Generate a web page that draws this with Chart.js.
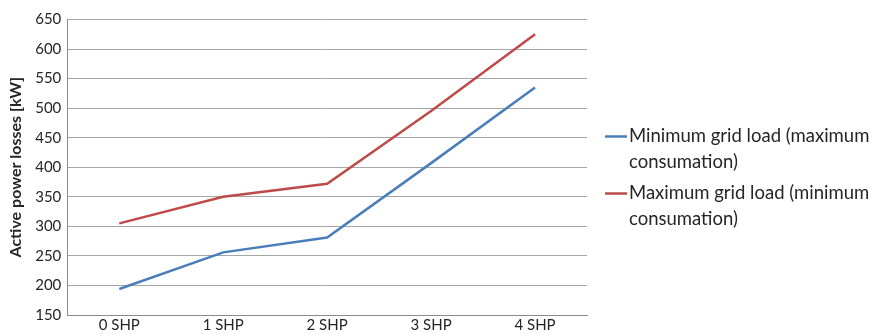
<!DOCTYPE html>
<html>
<head>
<meta charset="utf-8">
<script src="https://cdn.jsdelivr.net/npm/chart.js@4.4.1/dist/chart.umd.min.js"></script>
<style>
  html, body { margin: 0; padding: 0; background: #ffffff; }
  #wrap { width: 882px; height: 335px; position: relative; }
</style>
</head>
<body>
<div id="wrap"><canvas id="c" width="882" height="335"></canvas></div>
<script>
// Scenarios: number of small hydro power plants connected
const categories = ['0 SHP', '1 SHP', '2 SHP', '3 SHP', '4 SHP'];
// Active power losses [kW]
const minGridLoad = [194, 256, 281, 407, 535];
const maxGridLoad = [305, 350, 372, 495, 625];
const seriesNames = [
  ['Minimum grid load (maximum', 'consumation)'],
  ['Maximum grid load (minimum', 'consumation)']
];
const yTicks = [150, 200, 250, 300, 350, 400, 450, 500, 550, 600, 650];

const FONT = 'Lato, "Open Sans", sans-serif';

// Legend on the right, with wrapped two-line entries
const sideLegend = {
  id: 'sideLegend',
  afterDraw(chart) {
    const ctx = chart.ctx;
    const area = chart.chartArea;
    const x0 = area.right + 18;
    const lineLen = 22;
    const lineH = 26;
    const entryGap = 57;
    let y = area.top + 117;
    ctx.save();
    ctx.font = '18.5px ' + FONT;
    ctx.textBaseline = 'middle';
    ctx.fillStyle = '#262626';
    chart.data.datasets.forEach((ds, i) => {
      ctx.strokeStyle = ds.borderColor;
      ctx.lineWidth = 2.5;
      ctx.beginPath();
      ctx.moveTo(x0, y);
      ctx.lineTo(x0 + lineLen, y);
      ctx.stroke();
      const lines = seriesNames[i];
      lines.forEach((t, k) => {
        ctx.fillText(t, x0 + lineLen + 2, y + k * lineH);
      });
      y += entryGap;
    });
    ctx.restore();
  }
};

new Chart(document.getElementById('c'), {
  type: 'line',
  data: {
    labels: categories,
    datasets: [
      {
        label: seriesNames[0].join(' '),
        data: minGridLoad,
        borderColor: '#4a7ebb',
        backgroundColor: '#4a7ebb',
        borderWidth: 2.5,
        pointRadius: 0,
        tension: 0,
        fill: false
      },
      {
        label: seriesNames[1].join(' '),
        data: maxGridLoad,
        borderColor: '#be4b48',
        backgroundColor: '#be4b48',
        borderWidth: 2.5,
        pointRadius: 0,
        tension: 0,
        fill: false
      }
    ]
  },
  options: {
    responsive: false,
    animation: false,
    layout: { padding: { top: 19.5, right: 295, bottom: 0, left: 6 } },
    plugins: {
      legend: { display: false },
      tooltip: { enabled: false }
    },
    scales: {
      x: {
        offset: true,
        grid: { display: false, drawTicks: false },
        border: { display: true, color: '#8c8c8c', width: 1 },
        ticks: { color: '#262626', font: { family: FONT, size: 15 }, padding: 1, maxRotation: 0 }
      },
      y: {
        min: 150,
        max: 650,
        afterBuildTicks(scale) { scale.ticks = yTicks.map(v => ({ value: v })); },
        grid: { color: '#a6a6a6', lineWidth: 1, drawTicks: false },
        border: { display: true, color: '#8c8c8c', width: 1 },
        ticks: { color: '#262626', font: { family: FONT, size: 15 }, padding: 6 },
        title: {
          display: true,
          text: 'Active power losses [kW]',
          color: '#262626',
          font: { family: FONT, size: 16, weight: 'bold' },
          padding: { top: 0, bottom: 4 }
        }
      }
    }
  },
  plugins: [sideLegend]
});
</script>
</body>
</html>
